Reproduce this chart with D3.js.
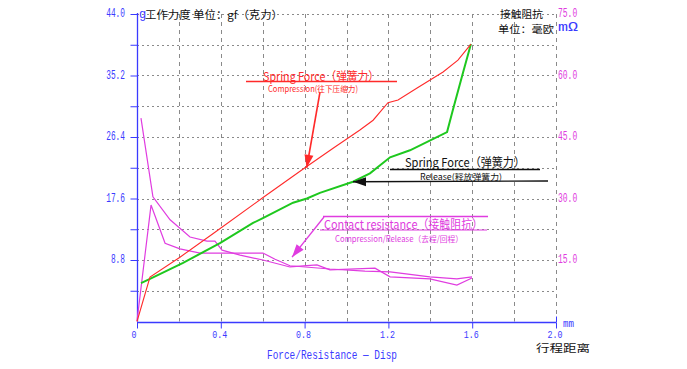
<!DOCTYPE html>
<html><head><meta charset="utf-8">
<script src="https://cdn.jsdelivr.net/npm/d3@7"></script>
<style>
html,body{margin:0;padding:0;background:#fff;}
svg{display:block;}
</style></head>
<body>
<svg id="c" width="687" height="369"></svg>
<script>
// ---- data ----
const compDisp  = [0,0.062,0.205,0.364,0.6,0.8,0.936,1.064,1.127,1.198,1.246,1.337,1.461,1.532,1.594];
const compForce = [0,6.37,9.2,12.6,17.7,21.96,24.8,27.4,28.8,31.3,31.7,33.4,35.7,37.4,39.7];
const relDisp   = [0.019,0.062,0.22,0.396,0.554,0.601,0.745,0.811,0.873,1.031,1.112,1.208,1.303,1.48,1.508,1.556,1.594];
const relForce  = [5.5,6.1,8.4,11.2,14.1,14.8,17.0,17.6,18.4,20.0,21.2,23.5,24.5,27.1,30.3,35.6,39.7];
const resADisp  = [0.019,0.076,0.158,0.253,0.334,0.372,0.406,0.492,0.601,0.73,0.859,0.921,1.136,1.208,1.398,1.527,1.599];
const resAVal   = [49.6,30.4,24.8,20.6,19.6,19.6,17.4,16.2,15.0,13.3,13.8,12.6,13.0,10.9,10.4,8.9,10.6];
const resBDisp  = [0,0.067,0.134,0.205,0.301,0.372,0.492,0.601,0.659,0.73,0.921,1.088,1.208,1.398,1.527,1.599];
const resBVal   = [0.1,28.4,19.1,17.7,16.7,16.7,16.7,16.7,15.2,13.6,12.8,12.3,12.1,10.9,10.4,10.9];
const leftTicks  = [8.8,17.6,26.4,35.2,44.0];
const rightTicks = [15,30,45,60,75];
const xTicks     = [0,0.4,0.8,1.2,1.6,2.0];

// ---- layout ----
const svg = d3.select("#c");
const x  = d3.scaleLinear([0,2],[137,556]);
const yL = d3.scaleLinear([0,44],[321.5,14]);
const yR = d3.scaleLinear([0,75],[321.5,14]);
const BLUE="#3a3aff", RED="#ff2a2a", GREEN="#1ec81e", MAG="#e03ce0", GRID="#8a8a8a";
const mono="'Liberation Mono','DejaVu Sans Mono',monospace";
const cjk="'Noto Sans CJK SC','Noto Sans',sans-serif";

// gridlines
const g = svg.append("g");
g.selectAll("line.h").data(d3.range(1,11).map(i=>i*4.4)).join("line")
  .attr("x1",x(0)).attr("x2",x(2)).attr("y1",d=>Math.round(yL(d))+0.5).attr("y2",d=>Math.round(yL(d))+0.5)
  .attr("stroke",GRID).attr("stroke-dasharray","2,3");
g.selectAll("line.v").data(d3.range(1,11).map(i=>i*0.2)).join("line")
  .attr("x1",d=>Math.round(x(d))+0.5).attr("x2",d=>Math.round(x(d))+0.5).attr("y1",yL(44)).attr("y2",yL(0))
  .attr("stroke",GRID).attr("stroke-dasharray","4,4");

// axes
const ax = svg.append("g").attr("transform",`translate(${x(0)+0.5},0)`)
  .call(d3.axisLeft(yL).tickValues(d3.range(1,11).map(i=>i*4.4)).tickSize(7).tickFormat(""));
ax.select(".domain").remove();
ax.selectAll("line").attr("stroke",BLUE);
svg.append("line").attr("x1",x(0)+0.5).attr("x2",x(0)+0.5).attr("y1",yL(44)-1).attr("y2",yL(0))
  .attr("stroke",BLUE).attr("stroke-width",1.3);
const bx = svg.append("g").attr("transform",`translate(0,${Math.round(yL(0))+0.5})`)
  .call(d3.axisBottom(x).tickValues(xTicks).tickSize(6).tickFormat(""));
bx.select(".domain").remove();
bx.selectAll("line").attr("stroke",BLUE);
svg.append("line").attr("x1",x(0)).attr("x2",x(2)).attr("y1",Math.round(yL(0))+0.5).attr("y2",Math.round(yL(0))+0.5)
  .attr("stroke",BLUE).attr("stroke-width",1.3);
svg.append("line").attr("x1",x(2)+0.5).attr("x2",x(2)+0.5).attr("y1",yL(0)-5).attr("y2",yL(0)+1)
  .attr("stroke",BLUE);

function lbl(t, px, py, col, anchor, size, cw){
  const e = svg.append("text").attr("x",px).attr("y",py).text(t)
    .attr("fill",col).attr("font-family",mono).attr("font-size",size)
    .attr("text-anchor",anchor).attr("dominant-baseline","central");
  if(cw) e.attr("textLength",t.length*cw).attr("lengthAdjust","spacingAndGlyphs");
  return e;
}
leftTicks.forEach(v=>lbl(v.toFixed(1), 125, yL(v), BLUE, "end", 12, 4.7));
rightTicks.forEach(v=>lbl(v.toFixed(1), 558, yR(v), MAG, "start", 12, 4.8));
xTicks.forEach(v=>lbl(v===0?"0":v.toFixed(1), x(v)-(v===0?3:1), 335, BLUE, "middle", 11, 5));
lbl("mm", 563, 324, BLUE, "start", 10, 5.5);
lbl("mΩ", 558, 28, BLUE, "start", 12, 10);
lbl("g", 139, 15, BLUE, "start", 12);
lbl("Force/Resistance — Disp", 332, 356, BLUE, "middle", 12, 5.65);

function ctext(t, px, py, col, size, len, anchor){
  const e = svg.append("text").attr("x",px).attr("y",py).text(t)
    .attr("fill",col).attr("font-family",cjk).attr("font-size",size)
    .attr("dominant-baseline","central").attr("text-anchor",anchor||"start");
  if(len) e.attr("textLength",len).attr("lengthAdjust","spacingAndGlyphs");
  return e;
}
ctext("工作力度 单位：gf（克力）", 145, 14, "#111", 11, 138);
ctext("接触阻抗", 500, 13.5, "#111", 10.5, 43);
ctext("单位：毫欧", 498, 28, "#111", 10.5, 56);
ctext("行程距离", 536, 347, "#111", 10.5, 54);

// data lines
const line = (xs, ys, sy) => d3.line().x((d,i)=>x(xs[i])).y((d,i)=>sy(ys[i]))(xs);
svg.append("path").attr("d",line(resADisp,resAVal,yR)).attr("fill","none").attr("stroke",MAG).attr("stroke-width",1.2);
svg.append("path").attr("d",line(resBDisp,resBVal,yR)).attr("fill","none").attr("stroke",MAG).attr("stroke-width",1.2);
svg.append("path").attr("d",line(relDisp,relForce,yL)).attr("fill","none").attr("stroke",GREEN).attr("stroke-width",2);
svg.append("path").attr("d",line(compDisp,compForce,yL)).attr("fill","none").attr("stroke",RED).attr("stroke-width",1.1);

// annotations
function arrow(x1,y1,x2,y2,col,w){
  svg.append("line").attr("x1",x1).attr("y1",y1).attr("x2",x2).attr("y2",y2).attr("stroke",col).attr("stroke-width",w);
  const a = Math.atan2(y2-y1,x2-x1), L=13, W=4.5;
  const bx=x2-L*Math.cos(a), by=y2-L*Math.sin(a);
  const p=[[x2,y2],[bx+W*Math.sin(a),by-W*Math.cos(a)],[bx-W*Math.sin(a),by+W*Math.cos(a)]];
  svg.append("path").attr("d","M"+p.join("L")+"Z").attr("fill",col);
}
// red
ctext("Spring Force（弹簧力）", 263, 75, RED, 12, 116);
svg.append("line").attr("x1",246).attr("x2",397).attr("y1",81.5).attr("y2",81.5).attr("stroke",RED).attr("stroke-width",1.3);
ctext("Compression(往下压缩力)", 268, 88, RED, 8.5, 90);
arrow(320,92,x(0.81),yL(22.0),RED,1.6);
// black
ctext("Spring Force（弹簧力）", 405, 161, "#111", 12, 120);
svg.append("line").attr("x1",390).attr("x2",540).attr("y1",169.5).attr("y2",169.5).attr("stroke","#111").attr("stroke-width",1.3);
ctext("Release(释放弹簧力)", 420, 175.5, "#111", 8.5, 82);
arrow(548,181,x(1.031),yL(20.0),"#111",1.4);
// magenta
svg.append("line").attr("x1",323).attr("x2",488).attr("y1",216.5).attr("y2",216.5).attr("stroke",MAG).attr("stroke-width",1.3);
ctext("Contact resistance（接触阻抗）", 324, 223, MAG, 12, 159);
svg.append("line").attr("x1",320).attr("x2",487).attr("y1",230).attr("y2",230).attr("stroke",MAG).attr("stroke-width",1.2);
ctext("Compression/Release（去程/回程）", 335, 238, MAG, 8.5, 128);
arrow(324,217,x(0.74),yR(15.7),MAG,1.3);
</script>
</body></html>
